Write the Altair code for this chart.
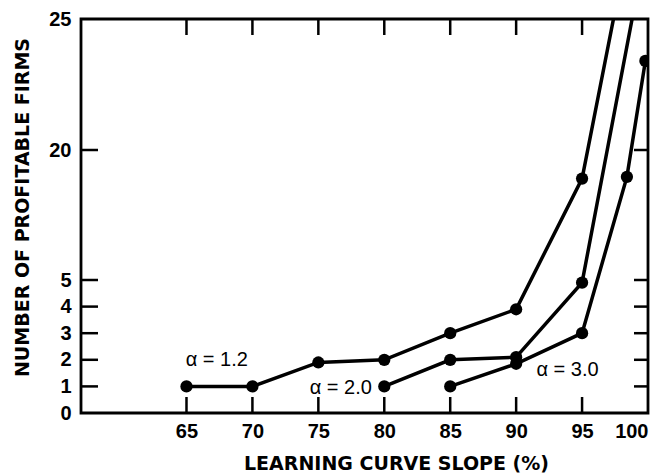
import altair as alt
import pandas as pd

# ---- data ----
slope_12 = [65, 70, 75, 80, 85, 90, 95, 100]
firms_12 = [1, 1, 1.9, 2, 3, 3.9, 16.7, 31.7]
slope_20 = [80, 85, 90, 95, 100]
firms_20 = [1, 2, 2.1, 4.9, 28.2]
slope_30 = [85, 90, 95, 98.4, 99.8]
firms_30 = [1, 1.85, 3, 16.9, 23.4]

x_tick_values = [65, 70, 75, 80, 85, 90, 95]
y_tick_values = [1, 2, 3, 4, 5, 20]
x_label_values = [65, 70, 75, 80, 85, 90, 95, 100]
y_label_values = [0, 1, 2, 3, 4, 5, 20, 25]

label_text = ["α = 1.2", "α = 2.0", "α = 3.0"]
label_slope = [67.3, 76.7, 93.9]
label_firms = [2.0, 0.95, 1.6]

rows = []
for name, xs_, ys_ in [("1.2", slope_12, firms_12), ("2.0", slope_20, firms_20), ("3.0", slope_30, firms_30)]:
    for a, b in zip(xs_, ys_):
        rows.append({"series": name, "slope": a, "firms": b})
df = pd.DataFrame(rows)
lab = pd.DataFrame({"text": label_text, "slope": label_slope, "firms": label_firms})
xt = pd.DataFrame({"slope": x_tick_values})
yt = pd.DataFrame({"firms": y_tick_values})

W, H = 567, 394
xs = alt.Scale(domain=[57, 100], nice=False, zero=False)
ys = alt.Scale(domain=[0, 5, 20, 25], range=[H, 261, 131, 0], nice=False, zero=False)

xaxis = alt.Axis(values=x_label_values, ticks=False, tickSize=0, domain=False, grid=False,
                 labelPadding=8, labelFont="Liberation Sans", labelFontWeight="bold",
                 labelFontSize=20, labelColor="black",
                 title="LEARNING CURVE SLOPE (%)", titleFont="DejaVu Sans", titleFontWeight="bold",
                 titleFontSize=19, titleColor="black", titleX=315, titleY=50,
                 titleBaseline="middle", titleAlign="center")
yaxis = alt.Axis(values=y_label_values, ticks=False, tickSize=0, domain=False, grid=False,
                 labelPadding=10, labelFont="Liberation Sans", labelFontWeight="bold",
                 labelFontSize=20, labelColor="black",
                 title="NUMBER OF PROFITABLE FIRMS", titleFont="DejaVu Sans", titleFontWeight="bold",
                 titleFontSize=19, titleColor="black", titleX=-59, titleY=188, titleAngle=-90,
                 titleBaseline="middle", titleAlign="center")

X = alt.X("slope:Q", scale=xs, axis=xaxis)
Y = alt.Y("firms:Q", scale=ys, axis=yaxis)

line = alt.Chart(df).mark_line(color="black", strokeWidth=3.5, clip=True).encode(
    x=X, y=Y, detail="series:N",
)
points = alt.Chart(df).mark_circle(color="black", size=150, opacity=1, clip=True).encode(
    x=X, y=Y,
)
texts = alt.Chart(lab).mark_text(font="Liberation Sans", fontSize=20, color="black",
                                 align="center", baseline="middle").encode(
    x=X, y=Y, text="text:N",
)
bottom_ticks = alt.Chart(xt).mark_rule(color="black", strokeWidth=2.5).encode(
    x=X, y=alt.value(H), y2=alt.value(H - 16))
top_ticks = alt.Chart(xt).mark_rule(color="black", strokeWidth=2.5).encode(
    x=X, y=alt.value(0), y2=alt.value(16))
left_ticks = alt.Chart(yt).mark_rule(color="black", strokeWidth=2.5).encode(
    y=Y, x=alt.value(0), x2=alt.value(17))
right_ticks = alt.Chart(yt).mark_rule(color="black", strokeWidth=2.5).encode(
    y=Y, x=alt.value(W), x2=alt.value(W - 14))

chart = alt.layer(line, points, texts, bottom_ticks, top_ticks, left_ticks, right_ticks).properties(
    width=W, height=H,
    padding={"left": 73, "top": 11, "right": 8, "bottom": 62},
    autosize="none",
    background="white",
).configure_view(stroke="black", strokeWidth=2.8)

chart.save("out.html", embed_options={"renderer": "svg", "actions": False})
